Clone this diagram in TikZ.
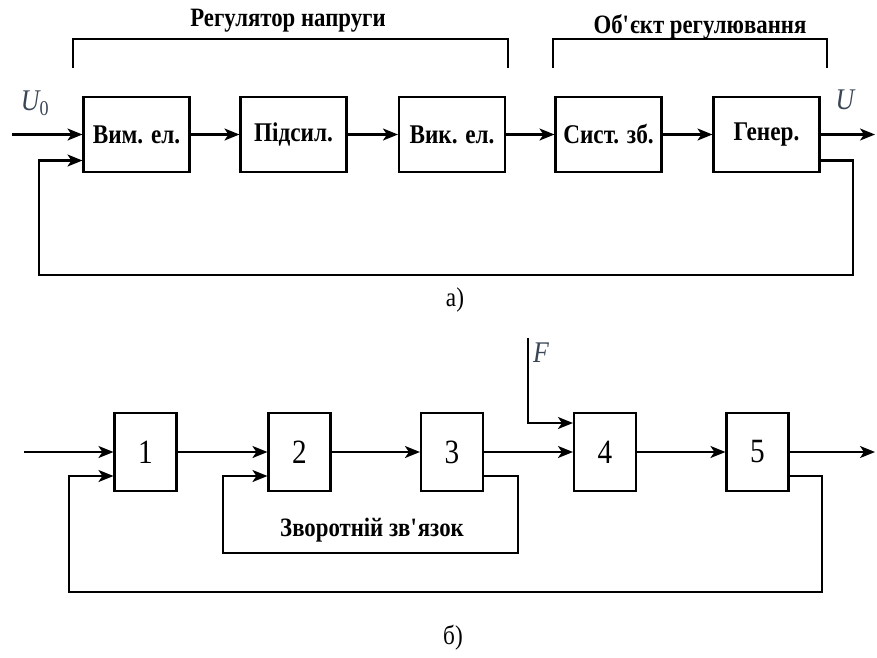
\documentclass[tikz,border=0pt]{standalone}
\usepackage{fontspec}
\setmainfont{Liberation Serif}[FakeStretch=0.86]
\usetikzlibrary{positioning,arrows.meta,calc}
\definecolor{signame}{HTML}{3A4656}

\begin{document}
\begin{tikzpicture}[x=1pt, y=-1pt,
    blk/.style={draw, line width=2.1pt, minimum width=106pt, minimum height=75pt,
        inner sep=0pt, font=\rmfamily\fontsize{27}{29}\selectfont\bfseries},
    sq/.style={draw, line width=2.1pt, minimum width=62pt, minimum height=78pt,
        inner sep=0pt, font=\rmfamily\fontsize{34}{36}\selectfont},
    sig/.style={line width=2.1pt, -{Stealth[length=15pt,width=12pt,inset=4pt]}},
    ln/.style={line width=2.1pt},
    grp/.style={font=\rmfamily\fontsize{26.5}{28}\selectfont\bfseries},
    var/.style={font=\rmfamily\fontsize{30}{32}\selectfont\itshape, text=signame},
    sublbl/.style={font=\rmfamily\fontsize{27}{29}\selectfont}]
    \useasboundingbox (0,0) rectangle (877,657);

    % a) voltage regulation loop
    \foreach \i/\x/\t in {1/136.5/{Вим. ел.}, 2/293.5/{Підсил.}, 3/452/{Вик. ел.},
        4/608.5/{Сист. зб.}, 5/766.5/{Генер.}} {
        \node[blk] (v\i) at (\x,134.5) {\t};
    }
    \foreach \a/\b in {1/2,2/3,3/4,4/5} {
        \draw[sig] (v\a) -- (v\b);
    }
    \coordinate (vin) at (12,134.5);
    \coordinate (vout) at (875,134.5);
    \draw[sig] (vin) -- (v1.west);
    \draw[sig] (v5.east) -- (vout);
    \node[var] (u0) at (35,103) {U\textsubscript{\upshape 0}};
    \node[var] (u) at (845,100) {U};

    % feedback from generator
    \coordinate (vfbA) at ($(v5.east)+(0,26)$);
    \coordinate (vfbB) at ($(v1.west)+(0,26)$);
    \draw[sig] (vfbA) -| (853,275) -| (39,160.5) -- (vfbB);

    % group brackets
    \draw[ln] (73,68) -- (73,39) -- (508,39) -- (508,68);
    \node[grp] (reg) at (288,21) {Регулятор напруги};
    \draw[ln] (553,68) -- (553,39) -- (827,39) -- (827,68);
    \node[grp] (obj) at (700,27) {Об\textquotesingle єкт регулювання};
    \node[sublbl] (capa) at (455,300) {а)};

    % b) generalised structure
    \foreach \i/\x in {1/145.5, 2/299.5, 3/452, 4/605, 5/757.5} {
        \node[sq] (b\i) at (\x,452) {\i};
    }
    \foreach \a/\b in {1/2,2/3,3/4,4/5} {
        \draw[sig] (b\a) -- (b\b);
    }
    \coordinate (bin) at (24,452);
    \coordinate (bout) at (875,452);
    \draw[sig] (bin) -- (b1.west);
    \draw[sig] (b5.east) -- (bout);

    % disturbance
    \coordinate (ftop) at (528,338);
    \draw[sig] (ftop) |- ($(b4.west)+(0,-29)$);
    \node[var] (f) at (541,353) {F};

    % local feedback 3 -> 2
    \coordinate (bfbA) at ($(b3.east)+(0,24)$);
    \coordinate (bfbB) at ($(b2.west)+(0,24)$);
    \draw[sig] (bfbA) -| (518,553) -| (223,476) -- (bfbB);
    \node[grp] (loc) at (372,530) {Зворотній зв\textquotesingle язок};

    % main feedback 5 -> 1
    \coordinate (bfbC) at ($(b5.east)+(0,24)$);
    \coordinate (bfbD) at ($(b1.west)+(0,24)$);
    \draw[sig] (bfbC) -| (822,592) -| (69,476) -- (bfbD);
    \node[sublbl] (capb) at (453,638) {б)};
\end{tikzpicture}
\end{document}
